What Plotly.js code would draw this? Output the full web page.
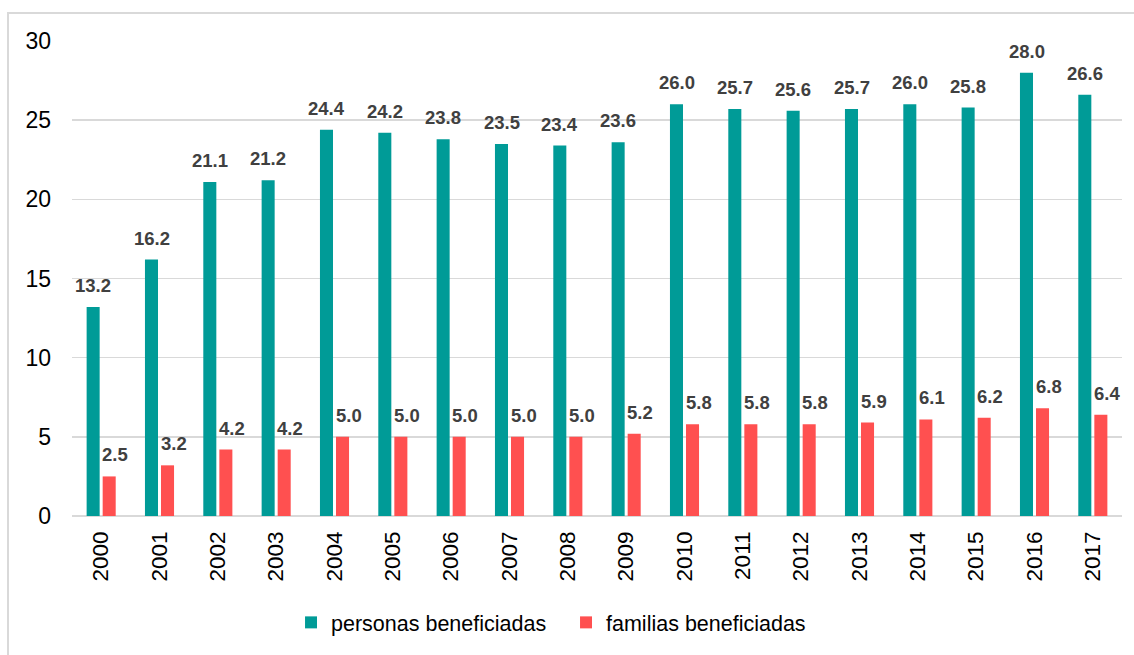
<!DOCTYPE html>
<html>
<head>
<meta charset="utf-8">
<script src="https://cdn.plot.ly/plotly-3.0.1.min.js"></script>
<style>
html,body{margin:0;padding:0;background:#fff;}
#wrap{position:relative;width:1134px;height:655px;}
#chart{position:absolute;left:0;top:0;width:1134px;height:655px;}
#frame{position:absolute;left:7px;top:12px;right:-2px;bottom:-2px;border-left:2px solid #d9d9d9;border-top:2px solid #d9d9d9;pointer-events:none;}
</style>
</head>
<body>
<div id="wrap"><div id="chart"></div><div id="frame"></div></div>
<script>
const years = ["2000","2001","2002","2003","2004","2005","2006","2007","2008","2009","2010","2011","2012","2013","2014","2015","2016","2017"];
const personas = [13.2,16.2,21.1,21.2,24.4,24.2,23.8,23.5,23.4,23.6,26.0,25.7,25.6,25.7,26.0,25.8,28.0,26.6];
const familias = [2.5,3.2,4.2,4.2,5.0,5.0,5.0,5.0,5.0,5.2,5.8,5.8,5.8,5.9,6.1,6.2,6.8,6.4];
const seriesNames = ["personas beneficiadas","familias beneficiadas"];
const yTicks = [0,5,10,15,20,25,30];

const teal = "#009B97";
const red = "#FF5050";
const font = "Liberation Sans, Arial, sans-serif";

const traces = [
  {type:"bar", name:seriesNames[0], x:years, y:personas, marker:{color:teal, line:{width:0}}, hoverinfo:"none"},
  {type:"bar", name:seriesNames[1], x:years, y:familias, marker:{color:red, line:{width:0}}, hoverinfo:"none"}
];

const annotations = [];
years.forEach((yr,i)=>{
  annotations.push({x:i, y:personas[i], xref:"x", yref:"y", text:personas[i].toFixed(1), showarrow:false,
    xanchor:"center", yanchor:"bottom", xshift:-8, yshift:9,
    font:{family:font, size:18.5, color:"#404040", weight:"bold"}});
  annotations.push({x:i, y:familias[i], xref:"x", yref:"y", text:familias[i].toFixed(1), showarrow:false,
    xanchor:"center", yanchor:"bottom", xshift:14, yshift:9,
    font:{family:font, size:18.5, color:"#404040", weight:"bold"}});
});

const layout = {
  width:1134, height:655,
  margin:{l:72, r:12, t:41, b:137},
  paper_bgcolor:"#fff", plot_bgcolor:"#fff",
  barmode:"group", bargap:0.45, bargroupgap:0.1875,
  font:{family:font, color:"#000"},
  xaxis:{type:"category", categoryorder:"array", categoryarray:years, range:[-0.5, years.length-0.5],
    tickangle:-90, tickfont:{family:font, size:22.5, color:"#000"},
    showgrid:false, showline:false, ticks:"", ticklabelstandoff:10, fixedrange:true},
  yaxis:{range:[0,30], tickvals:yTicks, ticktext:yTicks.map(String),
    tickfont:{family:font, size:23, color:"#000"},
    showgrid:true, gridcolor:"#d9d9d9", gridwidth:1.5,
    zeroline:true, zerolinecolor:"#d9d9d9", zerolinewidth:2,
    showline:false, ticks:"", ticklabelstandoff:20, fixedrange:true},
  showlegend:true,
  legend:{orientation:"h", x:0.2086, xanchor:"left", y:-0.224, yanchor:"middle",
    font:{family:font, size:21.5, color:"#000"}, bgcolor:"rgba(0,0,0,0)", itemwidth:30,
    entrywidth:230, entrywidthmode:"pixels", traceorder:"normal"},
  annotations:annotations
};

Plotly.newPlot("chart", traces, layout, {displayModeBar:false, staticPlot:true});
</script>
</body>
</html>
